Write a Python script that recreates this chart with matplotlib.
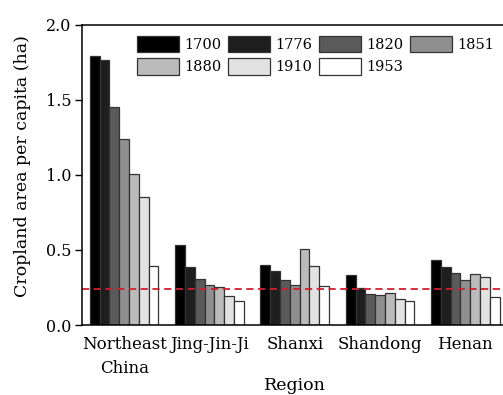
import matplotlib
matplotlib.use("Agg")
import matplotlib.pyplot as plt
import numpy as np

regions = ["Northeast\nChina", "Jing-Jin-Ji", "Shanxi", "Shandong", "Henan"]
years = ["1700", "1776", "1820", "1851", "1880", "1910", "1953"]
v1700 = [1.79, 0.535, 0.398, 0.333, 0.436]
v1776 = [1.767, 0.387, 0.362, 0.249, 0.389]
v1820 = [1.451, 0.307, 0.298, 0.204, 0.349]
v1851 = [1.24, 0.267, 0.269, 0.198, 0.30]
v1880 = [1.004, 0.256, 0.504, 0.216, 0.338]
v1910 = [0.851, 0.196, 0.391, 0.176, 0.318]
v1953 = [0.395, 0.162, 0.262, 0.16, 0.189]
series = [v1700, v1776, v1820, v1851, v1880, v1910, v1953]
threshold = 0.238

colors = ["#000000", "#1e1e1e", "#5a5a5a", "#8f8f8f", "#bbbbbb", "#e2e2e2", "#ffffff"]

plt.rcParams['font.family'] = ['DejaVu Serif']

fig = plt.figure(figsize=(5.03, 3.95), dpi=100)
ax = fig.add_axes([81.5/503, 70/395, 426.5/503, 300/395])

x = np.arange(len(regions))
w = 0.115
handles = []
for i, (vals, c) in enumerate(zip(series, colors)):
    h = ax.bar(x + (i - 3) * w, vals, width=w, color=c, edgecolor="#333333",
               linewidth=0.9, label=years[i])
    handles.append(h)

ax.axhline(threshold, color="#d02030", linestyle=(0, (4, 2.5)), linewidth=1.3)

ax.set_xlim(-0.5, 4.5)
ax.set_ylim(0, 2.0)
ax.set_yticks([0, 0.5, 1.0, 1.5, 2.0])
ax.set_yticklabels(["0.0", "0.5", "1.0", "1.5", "2.0"])
ax.set_xticks(x)
ax.set_xticklabels(regions, fontsize=12, linespacing=1.55)
ax.tick_params(axis='x', length=0, pad=8)
ax.tick_params(axis='y', length=5, width=1, labelsize=11.5, pad=2, direction='out')
for s in ["left", "bottom", "top"]:
    ax.spines[s].set_linewidth(1.1)
ax.spines["right"].set_visible(False)

ax.set_ylabel("Cropland area per capita (ha)", fontsize=12.5)
ax.yaxis.set_label_coords(-50 / 426.5, 0.53)
ax.set_xlabel("Region", fontsize=12.5, labelpad=0)

order = [0, 4, 1, 5, 2, 6, 3]
leg = ax.legend([handles[k] for k in order], [years[k] for k in order],
                ncol=4, loc="upper left", bbox_to_anchor=(137/503, 1 - 36/395),
                bbox_transform=fig.transFigure, frameon=False, fontsize=10.5,
                handlelength=2.85, handleheight=1.35, handletextpad=0.4,
                columnspacing=0.45, labelspacing=0.4, borderpad=0, borderaxespad=0)

fig.savefig("out.png", dpi=100)
